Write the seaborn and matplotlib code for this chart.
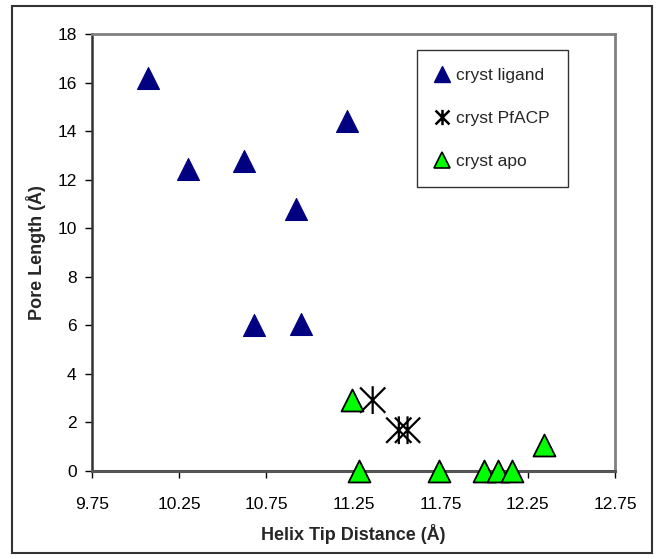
import numpy as np
import pandas as pd
import matplotlib
matplotlib.use("Agg")
import matplotlib.pyplot as plt
from matplotlib.path import Path
from matplotlib.patches import Rectangle
import seaborn as sns

# Helix tip distance (Å) and pore length (Å) per structure group
ligand_x = [10.07, 10.30, 10.62, 10.68, 10.92, 10.95, 11.21]
ligand_y = [16.2, 12.45, 12.75, 6.0, 10.8, 6.05, 14.4]

pfacp_x = [11.36, 11.51, 11.56]
pfacp_y = [2.92, 1.68, 1.68]

apo_x = [11.24, 11.28, 11.74, 12.00, 12.08, 12.16, 12.34]
apo_y = [2.92, 0.0, 0.0, 0.0, 0.0, 0.0, 1.06]

group_names = ["cryst ligand", "cryst PfACP", "cryst apo"]

x_ticks = [9.75, 10.25, 10.75, 11.25, 11.75, 12.25, 12.75]
y_ticks = [0, 2, 4, 6, 8, 10, 12, 14, 16, 18]

sns.set_theme(style="white")
plt.rcParams["font.family"] = ["Liberation Sans", "DejaVu Sans"]

df = pd.concat([
    pd.DataFrame({"x": ligand_x, "y": ligand_y, "group": group_names[0]}),
    pd.DataFrame({"x": pfacp_x, "y": pfacp_y, "group": group_names[1]}),
    pd.DataFrame({"x": apo_x, "y": apo_y, "group": group_names[2]}),
])

fig = plt.figure(figsize=(6.58, 5.59), dpi=100)
ax = fig.add_axes([92 / 658, 1 - 471 / 559, (615 - 92) / 658, (471 - 34) / 559])

# asterisk: X with a vertical bar
asterisk = Path(
    [(-1, -1), (1, 1), (-1, 1), (1, -1), (0, -1.1), (0, 1.1)],
    [Path.MOVETO, Path.LINETO, Path.MOVETO, Path.LINETO, Path.MOVETO, Path.LINETO],
)

sub = df[df.group == group_names[0]]
sns.scatterplot(data=sub, x="x", y="y", marker="^", s=250, color="#000080",
                edgecolor="#000080", linewidth=0.8, ax=ax, zorder=3,
                legend=False, clip_on=False)
sub = df[df.group == group_names[1]]
ax.scatter(sub.x, sub.y, marker=asterisk, s=400, facecolor="none",
           edgecolor="black", linewidth=1.6, zorder=3, clip_on=False)
sub = df[df.group == group_names[2]]
sns.scatterplot(data=sub, x="x", y="y", marker="^", s=250, color="#00ff00",
                edgecolor="black", linewidth=1.3, ax=ax, zorder=3,
                legend=False, clip_on=False)

ax.set_xlim(9.75, 12.75)
ax.set_ylim(0, 18)
ax.set_xticks(x_ticks)
ax.set_xticklabels([f"{t:.2f}" for t in x_ticks])
ax.set_yticks(y_ticks)
ax.set_yticklabels([str(t) for t in y_ticks])
ax.tick_params(axis="both", direction="out", length=5, width=1, color="black",
               labelsize=12.5, labelcolor="black", bottom=True, left=True)
ax.tick_params(axis="x", pad=14)
ax.tick_params(axis="y", pad=6)

for side in ["top", "right"]:
    ax.spines[side].set_color("#808080")
    ax.spines[side].set_linewidth(2)
ax.spines["left"].set_color("#333333")
ax.spines["left"].set_linewidth(1.8)
ax.spines["bottom"].set_color("#555555")
ax.spines["bottom"].set_linewidth(2.2)
for sp in ax.spines.values():
    sp.set_zorder(2)

ax.set_xlabel("Helix Tip Distance (Å)", fontsize=13, fontweight="bold", labelpad=8)
ax.set_ylabel("Pore Length (Å)", fontsize=13, fontweight="bold", labelpad=8)

handles = [
    plt.Line2D([], [], linestyle="none", marker="^", markersize=11,
               markerfacecolor="#000080", markeredgecolor="#000080"),
    plt.Line2D([], [], linestyle="none", marker=asterisk, markersize=11,
               markerfacecolor="none", markeredgecolor="black", markeredgewidth=1.8),
    plt.Line2D([], [], linestyle="none", marker="^", markersize=11,
               markerfacecolor="#00ff00", markeredgecolor="black", markeredgewidth=1.2),
]
leg = ax.legend(handles, group_names, loc="upper right",
                bbox_to_anchor=((568 - 92) / (615 - 92), (471 - 50) / (471 - 34)),
                frameon=True, fancybox=False, fontsize=12.5, labelspacing=1.6,
                handlelength=0.8, handletextpad=0.4, borderpad=1.05,
                borderaxespad=0)
leg.get_frame().set_edgecolor("black")
leg.get_frame().set_linewidth(1.0)

# outer chart border
fig.patches.append(Rectangle((12 / 658, 6 / 559), (652 - 12) / 658, (553 - 6) / 559,
                             transform=fig.transFigure, fill=False,
                             edgecolor="#333333", linewidth=1.5))

fig.savefig("out.png", dpi=100)
